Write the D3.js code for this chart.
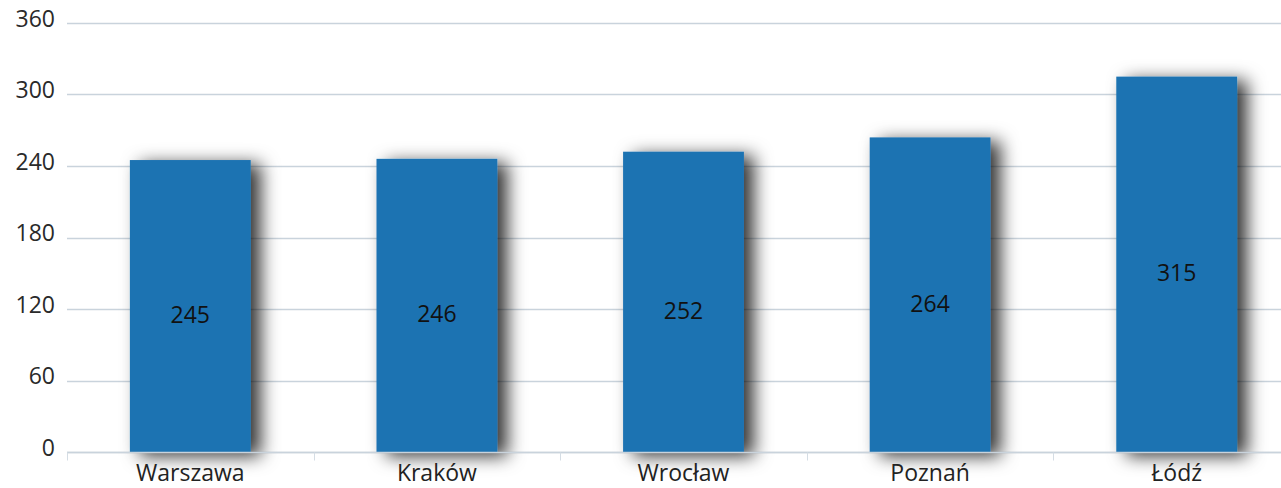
<!DOCTYPE html>
<html><head><meta charset="utf-8">
<script src="https://cdn.jsdelivr.net/npm/d3@7"></script>
<style>
html,body{margin:0;padding:0;background:#fff;overflow:hidden}
text{font-family:"Open Sans",sans-serif}
</style></head>
<body><svg id="c" width="1281" height="488"></svg>
<script>
const categories = ["Warszawa","Kraków","Wrocław","Poznań","Łódź"];
const values = [245,246,252,264,315];
const yTicks = [0,60,120,180,240,300,360];

const svg = d3.select("#c");
const margin = {left:67, top:23, bottom:36};
const plotRight = 1300;
const H = 488;
const x = d3.scaleBand().domain(categories).range([margin.left, plotRight]).paddingInner(0.51).paddingOuter(0.255);
const y = d3.scaleLinear().domain([0,360]).range([H-margin.bottom, margin.top]);

const defs = svg.append("defs");
const f = defs.append("filter").attr("id","sh").attr("x","-30%").attr("y","-30%").attr("width","170%").attr("height","170%");
f.append("feDropShadow").attr("dx",10).attr("dy",4).attr("stdDeviation",9).attr("flood-color","#000").attr("flood-opacity",0.8);

// grid
svg.append("g").selectAll("line").data(yTicks).join("line")
  .attr("x1",margin.left).attr("x2",plotRight)
  .attr("y1",d=>Math.round(y(d))+0.5).attr("y2",d=>Math.round(y(d))+0.5)
  .attr("stroke","#c9d3dc").attr("stroke-width",1.5);

// y labels
svg.append("g").selectAll("text").data(yTicks).join("text")
  .attr("x",55).attr("y",d=>y(d)+3.5).attr("text-anchor","end")
  .attr("font-size",23).attr("fill","#2a2a2a").text(d=>d);

// bars
svg.append("g").selectAll("rect").data(values).join("rect")
  .attr("x",(d,i)=>x(categories[i])).attr("width",x.bandwidth())
  .attr("y",d=>y(d)).attr("height",d=>y(0)-y(d))
  .attr("fill","#1f73b2").attr("filter","url(#sh)");

// bar labels
svg.append("g").selectAll("text").data(values).join("text")
  .attr("x",(d,i)=>x(categories[i])+x.bandwidth()/2)
  .attr("y",d=>y(d/2)+17).attr("text-anchor","middle")
  .attr("font-size",23).attr("fill","#111").text(d=>d);

// x axis
const ax = svg.append("g").attr("transform",`translate(0,${Math.round(y(0))+0.5})`);
ax.append("line").attr("x1",margin.left).attr("x2",plotRight).attr("stroke","#c9d3dc").attr("stroke-width",1.5);
const step = x.step();
const bounds = d3.range(categories.length+1).map(i=>margin.left+i*step);
ax.selectAll("line.t").data(bounds).join("line").attr("class","t")
  .attr("x1",d=>Math.round(d)+0.5).attr("x2",d=>Math.round(d)+0.5).attr("y1",0).attr("y2",8)
  .attr("stroke","#d5dde4").attr("stroke-width",1);
ax.selectAll("text").data(categories).join("text")
  .attr("x",d=>x(d)+x.bandwidth()/2).attr("y",28.5).attr("text-anchor","middle")
  .attr("font-size",23).attr("fill","#222").text(d=>d);
</script></body></html>
